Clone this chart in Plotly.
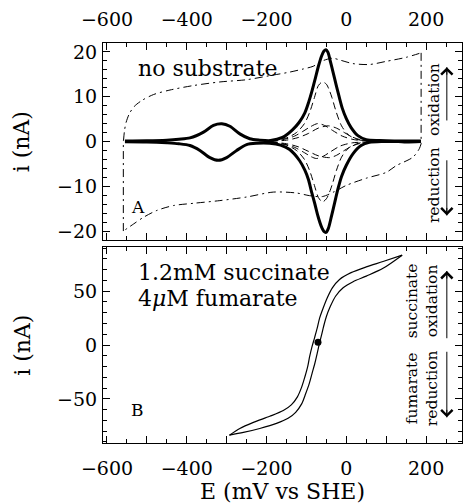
import plotly.graph_objects as go

# ---------------- data ----------------
# Panel A: thick trace (film signal), oxidative sweep
thick_ox_E = [-555, -500, -450, -420, -392, -358, -333, -312, -292, -267, -242, -217, -190, -160, -135, -118, -104, -94, -86, -78, -70, -62, -56, -51, -46, -40, -33, -26, -18, -10, 0, 12, 29, 50, 83, 120, 150, 187]
thick_ox_i = [0.1, 0.15, 0.3, 0.5, 0.8, 2.1, 3.6, 3.95, 3.4, 1.7, 0.6, 0.3, 0.2, 0.9, 2.6, 4.3, 6.4, 8.9, 11.3, 14.0, 16.8, 19.1, 20.2, 20.5, 19.9, 17.9, 15.4, 12.8, 10.0, 7.4, 5.1, 3.1, 1.3, 0.4, 0.2, 0.1, 0.1, 0.1]
# Panel A: thick trace, reductive sweep
thick_red_E = [-555, -500, -450, -420, -392, -367, -342, -321, -300, -275, -250, -225, -192, -165, -142, -117, -104, -95, -87, -79, -71, -63, -56, -51, -45, -37, -29, -21, -12, 0, 17, 37, 58, 92, 130, 150, 187]
thick_red_i = [-0.05, -0.1, -0.3, -0.5, -0.9, -2.0, -3.6, -4.2, -3.6, -2.0, -0.7, -0.4, -0.4, -0.8, -1.8, -4.3, -6.4, -8.5, -11.3, -13.9, -16.7, -18.9, -20.1, -20.3, -19.4, -16.6, -13.6, -10.6, -7.8, -5.3, -2.7, -0.9, -0.2, 0.0, 0.0, -0.1, 0.0]

# Panel A: dashed traces (peaks only)
tall_ox_E = [-190, -150, -125, -105, -92, -80, -70, -60, -50, -42, -36, -25, -12, 5, 30, 60]
tall_ox_i = [0.1, 0.8, 2.0, 4.0, 6.5, 9.8, 12.5, 13.3, 12.8, 11.3, 9.8, 6.5, 3.5, 1.5, 0.4, 0.1]
tall_red_E = [-190, -150, -125, -105, -92, -80, -70, -60, -50, -42, -35, -25, -12, 5, 30, 60]
tall_red_i = [-0.1, -0.8, -2.0, -4.0, -6.5, -9.8, -12.5, -13.5, -12.8, -11.3, -9.5, -6.5, -3.5, -1.5, -0.4, -0.1]
small1_ox_E = [-190, -160, -130, -110, -90, -72, -55, -35, -10, 20, 60]
small1_ox_i = [0.1, 0.4, 1.2, 2.2, 3.3, 4.0, 3.6, 2.5, 1.2, 0.4, 0.1]
small1_red_E = [-190, -150, -120, -95, -70, -42, -25, -5, 15, 35, 60]
small1_red_i = [-0.1, -0.5, -1.2, -2.2, -3.2, -3.6, -3.1, -2.0, -1.0, -0.4, -0.1]
small2_ox_E = [-190, -150, -120, -95, -70, -45, -25, -5, 15, 35, 60]
small2_ox_i = [0.05, 0.3, 0.9, 1.8, 3.0, 3.5, 3.0, 2.0, 1.0, 0.4, 0.1]
small2_red_E = [-190, -160, -130, -105, -88, -75, -58, -38, -15, 15, 60]
small2_red_i = [-0.1, -0.5, -1.3, -2.5, -3.4, -3.8, -3.3, -2.2, -1.0, -0.3, -0.1]

# Panel A: dash-dot background ("no substrate")
bg_up_E = [-558.6, -556, -552, -544, -532, -512, -483, -442, -383, -317, -250, -192, -142, -108, -83, -60, -35, -12.5, 16.6, 58, 100, 150, 187.5]
bg_up_i = [0.2, 2.5, 4.3, 6.2, 7.8, 9.2, 10.5, 11.5, 12.5, 13.3, 13.8, 14.7, 15.5, 16.2, 16.8, 18.0, 18.6, 18.1, 17.4, 17.2, 17.9, 18.8, 19.8]
bg_down_E = [187.5, 183, 167, 125, 100, 50, 0, -30, -60, -92, -125, -183, -250, -317, -383, -433, -475, -508, -533, -559]
bg_down_i = [-0.5, -1.6, -3.5, -5.4, -6.9, -8.2, -9.8, -11.2, -12.3, -12.1, -11.5, -11.3, -12.4, -13.2, -13.8, -14.3, -15.4, -16.9, -18.4, -20.0]
bg_right_E = [187.5, 187.5]
bg_right_i = [19.8, -0.5]
bg_left_E = [-559, -559]
bg_left_i = [-20.0, 0.2]

# Panel B: catalytic loop
loop_a_E = [-293, -267, -233, -192, -158, -138, -123, -112, -104, -97, -92, -86, -80, -73, -67, -58, -48, -35, -17, 12, 50, 92, 140]
loop_a_i = [-83.7, -77.5, -71.9, -66.2, -60.9, -55.6, -48.4, -39.1, -29.7, -20.3, -10.9, -1.6, 6.2, 15.6, 25.0, 34.4, 43.7, 53.1, 60.9, 67.2, 72.5, 77.5, 83.4]
loop_b_E = [-293, -258, -217, -175, -146, -127, -112, -102, -93, -86, -79, -73, -68, -62, -57, -50, -40, -27, -8, 17, 50, 92, 140]
loop_b_i = [-83.7, -81.2, -77.5, -72.8, -68.1, -62.5, -54.7, -45.3, -35.9, -26.5, -17.2, -7.8, 0.6, 9.4, 17.2, 26.5, 35.9, 45.3, 53.1, 58.8, 64.0, 71.2, 83.4]
dot_E = [-71]
dot_i = [2.5]

# Axis tick values / labels
x_tickvals = [-600, -500, -400, -300, -200, -100, 0, 100, 200]
x_ticktext = ["\u2212600", "", "\u2212400", "", "\u2212200", "", "0", "", "200"]
yA_tickvals = [-20, -10, 0, 10, 20]
yA_ticktext = ["\u221220", "\u221210", "0", "10", "20"]
yB_tickvals = [-50, 0, 50]
yB_ticktext = ["\u221250", "0", "50"]

# ---------------- figure ----------------
FONT = "DejaVu Serif"
fig = go.Figure()

def add(x, y, xa, ya, width, dash="solid", shape="spline"):
    fig.add_trace(go.Scatter(x=x, y=y, xaxis=xa, yaxis=ya, mode="lines",
                             line=dict(color="black", width=width, dash=dash, shape=shape, smoothing=0.8),
                             showlegend=False, hoverinfo="skip"))

DD = "8px,4px,2px,4px"
add(bg_up_E, bg_up_i, "x", "y", 1, DD)
add(bg_down_E, bg_down_i, "x", "y", 1, DD)
add(bg_right_E, bg_right_i, "x", "y", 1, DD, "linear")
add(bg_left_E, bg_left_i, "x", "y", 1, DD, "linear")
DS = "7px,4px"
for ex, iy in [(tall_ox_E, tall_ox_i), (tall_red_E, tall_red_i), (small1_ox_E, small1_ox_i),
               (small1_red_E, small1_red_i), (small2_ox_E, small2_ox_i), (small2_red_E, small2_red_i)]:
    add(ex, iy, "x", "y", 1, DS)
add(thick_ox_E, thick_ox_i, "x", "y", 3)
add(thick_red_E, thick_red_i, "x", "y", 3)

add(loop_a_E, loop_a_i, "x2", "y2", 1.2)
add(loop_b_E, loop_b_i, "x2", "y2", 1.2)
fig.add_trace(go.Scatter(x=dot_E, y=dot_i, xaxis="x2", yaxis="y2", mode="markers",
                         marker=dict(color="black", size=7), showlegend=False, hoverinfo="skip"))

TICK = 19
tickfont = dict(family=FONT, size=TICK, color="black")
common = dict(showline=True, linecolor="black", linewidth=1.2, mirror="allticks",
              ticks="inside", ticklen=7, tickwidth=1, tickcolor="black",
              showgrid=False, zeroline=False, tickfont=tickfont,
              minor=dict(ticks="inside", ticklen=4, tickwidth=1, tickcolor="black", showgrid=False))

fig.update_layout(
    width=465, height=503,
    margin=dict(l=103, r=3, t=43, b=60),
    paper_bgcolor="white", plot_bgcolor="white",
    xaxis=dict(domain=[0, 1], anchor="y", side="top", range=[-610, 290],
               tickmode="array", tickvals=x_tickvals, ticktext=x_ticktext,
               ticklabelstandoff=8, **common),
    yaxis=dict(domain=[0.5075, 1], anchor="x", range=[-22, 22],
               tickmode="array", tickvals=yA_tickvals, ticktext=yA_ticktext, ticklabelstandoff=1, **common),
    xaxis2=dict(domain=[0, 1], anchor="y2", range=[-610, 290], matches="x",
                tickmode="array", tickvals=x_tickvals, ticktext=x_ticktext,
                ticklabelstandoff=8, **common),
    yaxis2=dict(domain=[0, 0.49], anchor="x2", range=[-91, 91],
                tickmode="array", tickvals=yB_tickvals, ticktext=yB_ticktext, ticklabelstandoff=1, **common),
)
fig.update_xaxes(minor_dtick=50, minor_tick0=0)
fig.update_yaxes(selector=dict(anchor="x"), minor_dtick=2, minor_tick0=0)
fig.update_yaxes(selector=dict(anchor="x2"), minor_dtick=10, minor_tick0=0)

ann = []
def text(t, x, y, xref, yref, size, xanchor="left", angle=0, yanchor="middle"):
    ann.append(dict(text=t, x=x, y=y, xref=xref, yref=yref, showarrow=False,
                    xanchor=xanchor, yanchor=yanchor, textangle=angle,
                    font=dict(family=FONT, size=size, color="black")))

BIG = 22
SIDE = 15.5
LET = 17
# Panel A texts
text("no substrate", 0.092, 0.873, "x domain", "y domain", BIG)
text("A", 0.072, 0.168, "x domain", "y domain", LET)
text("oxidation", 0.922, 0.716, "x domain", "y domain", SIDE, "center", -90)
text("reduction", 0.922, 0.279, "x domain", "y domain", SIDE, "center", -90)
# Panel B texts
text("1.2mM succinate", 0.092, 0.871, "x2 domain", "y2 domain", BIG)
text("4<i>\u03bc</i>M fumarate", 0.092, 0.735, "x2 domain", "y2 domain", BIG)
text("B", 0.072, 0.168, "x2 domain", "y2 domain", LET)
text("succinate", 0.8615, 0.724, "x2 domain", "y2 domain", SIDE, "center", -90)
text("oxidation", 0.917, 0.724, "x2 domain", "y2 domain", SIDE, "center", -90)
text("fumarate", 0.8615, 0.281, "x2 domain", "y2 domain", SIDE, "center", -90)
text("reduction", 0.917, 0.281, "x2 domain", "y2 domain", SIDE, "center", -90)
# Axis titles
text("i (nA)", -0.226, 0.5, "paper", "y domain", BIG, "center", -90)
text("i (nA)", -0.226, 0.5, "paper", "y2 domain", BIG, "center", -90)
text("E (mV vs SHE)", 0.5, -0.12, "paper", "paper", BIG, "center")

# Arrows: shaft as a line shape, head as a short annotation arrow
shapes = []
def arrow(x, y0, y1, xr, yr, up):
    shapes.append(dict(type="line", x0=x, x1=x, y0=y0, y1=y1, xref=xr, yref=yr,
                       line=dict(color="black", width=1)))
    ann.append(dict(x=x, y=y1, ax=0, ay=(9 if up else -9), xref=xr, yref=yr,
                    text="", showarrow=True, arrowhead=4, arrowsize=2.2, arrowwidth=1,
                    arrowcolor="black", standoff=0, startstandoff=0))
arrow(252, 4.7, 16.6, "x", "y", True)
arrow(252, -4.2, -16.5, "x", "y", False)
arrow(252, 6.3, 68.7, "x2", "y2", True)
arrow(252, -6.3, -67.2, "x2", "y2", False)

fig.update_layout(annotations=ann, shapes=shapes)
fig.write_html("out.html")
